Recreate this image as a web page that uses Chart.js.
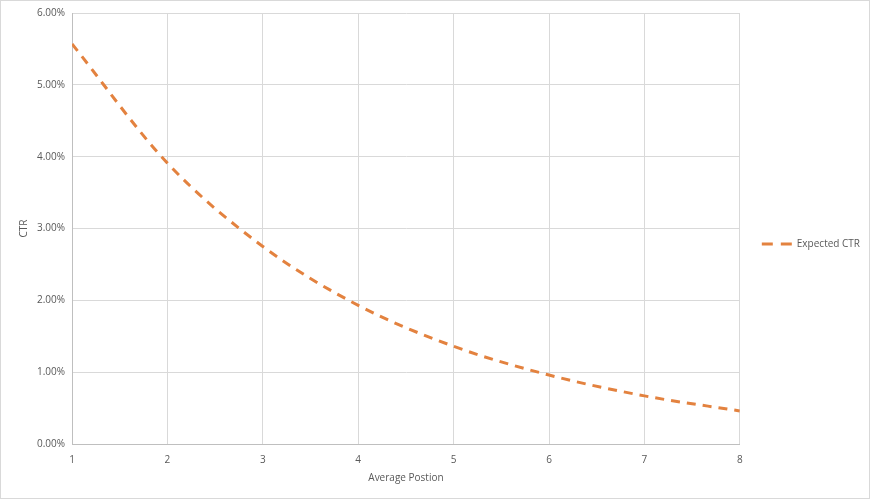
<!DOCTYPE html>
<html>
<head>
<meta charset="utf-8">
<script src="https://cdn.jsdelivr.net/npm/chart.js@4/dist/chart.umd.min.js"></script>
<style>
  html, body { margin: 0; padding: 0; background: #fff; }
  #wrap { width: 870px; height: 499px; position: relative; }
  canvas { display: block; }
</style>
</head>
<body>
<div id="wrap"><canvas id="c" width="870" height="499"></canvas></div>
<script>
const positions = [1, 2, 3, 4, 5, 6, 7, 8];
const expectedCTR = [5.57, 3.91, 2.75, 1.93, 1.36, 0.96, 0.67, 0.46];
const seriesName = 'Expected CTR';
const xTitle = 'Average Postion';
const yTitle = 'CTR';

const lineColor = '#E3823F';
const dash = [9, 7];
const legendDash = [11, 8];

const frame = {
  id: 'frame',
  afterDraw(chart) {
    const ctx = chart.ctx;
    ctx.save();
    ctx.strokeStyle = '#d9d9d9';
    ctx.lineWidth = 1;
    ctx.strokeRect(0.5, 0.5, chart.width - 1, chart.height - 1);
    ctx.restore();
  }
};

new Chart(document.getElementById('c'), {
  type: 'line',
  data: {
    datasets: [{
      label: seriesName,
      data: positions.map((p, i) => ({ x: p, y: expectedCTR[i] })),
      borderColor: lineColor,
      backgroundColor: lineColor,
      borderWidth: 3,
      borderDash: dash,
      pointRadius: 0,
      cubicInterpolationMode: 'monotone',
      fill: false
    }]
  },
  options: {
    responsive: false,
    animation: false,
    devicePixelRatio: 1,
    layout: { padding: { left: 14, right: 0, top: 4, bottom: 15 } },
    font: { family: 'Open Sans' },
    plugins: {
      tooltip: { enabled: false },
      legend: {
        position: 'right',
        labels: {
          usePointStyle: true,
          pointStyle: 'line',
          pointStyleWidth: 30,
          boxWidth: 30,
          padding: 22,
          color: '#595959',
          font: { family: 'Open Sans', size: 10 },
          generateLabels(chart) {
            const items = Chart.defaults.plugins.legend.labels.generateLabels(chart);
            items.forEach(it => {
              it.lineDash = legendDash;
              it.strokeStyle = lineColor;
              it.lineWidth = 3;
            });
            return items;
          }
        }
      }
    },
    scales: {
      x: {
        type: 'linear',
        min: 1, max: 8,
        ticks: { stepSize: 1, color: '#595959', font: { family: 'Open Sans', size: 10 }, padding: 10 },
        grid: { color: '#d9d9d9', drawTicks: false },
        border: { color: '#bfbfbf' },
        title: { display: true, text: xTitle, color: '#595959', font: { family: 'Open Sans', size: 10 }, padding: { top: -4, bottom: 0 } }
      },
      y: {
        min: 0, max: 6,
        ticks: {
          stepSize: 1, color: '#595959', font: { family: 'Open Sans', size: 10 }, padding: 7,
          callback: v => v.toFixed(2) + '%'
        },
        grid: { color: '#d9d9d9', drawTicks: false },
        border: { color: '#bfbfbf' },
        title: { display: true, text: yTitle, color: '#595959', font: { family: 'Open Sans', size: 10 }, padding: { top: 4, bottom: 0 } }
      }
    }
  },
  plugins: [frame]
});
</script>
</body>
</html>
